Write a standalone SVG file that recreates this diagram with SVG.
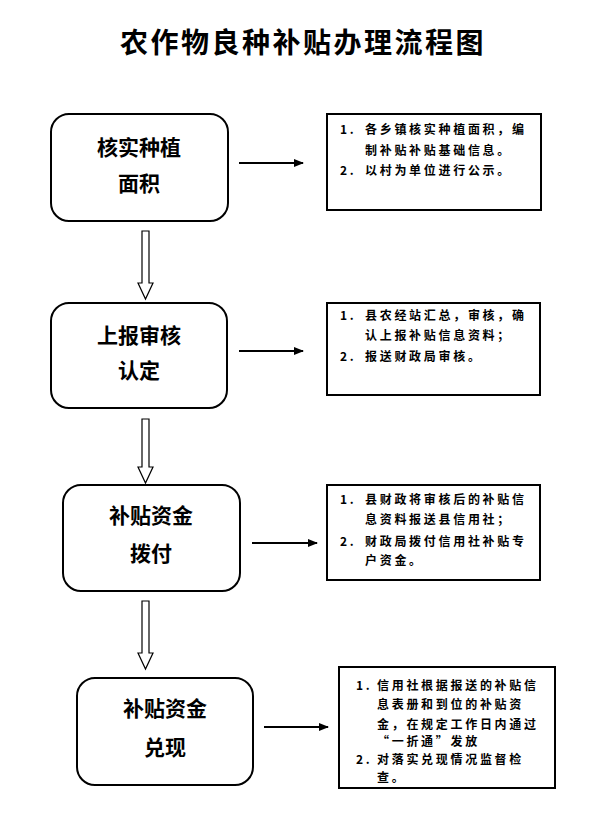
<svg xmlns="http://www.w3.org/2000/svg" width="595" height="822" viewBox="0 0 595 822">
<defs>
<style>
.title{font-family:"Noto Sans CJK SC","Noto Sans CJK JP",sans-serif;font-size:28px;font-weight:bold;fill:#000;letter-spacing:2.5px}
.node rect{fill:#fff;stroke:#000;stroke-width:2}
.ntxt{font-family:"Noto Sans CJK SC","Noto Sans CJK JP",sans-serif;font-size:21px;font-weight:bold;fill:#000;text-anchor:middle}
.box{fill:#fff;stroke:#000;stroke-width:2}
.btxt{font-family:"Noto Sans CJK SC","Noto Sans CJK JP",sans-serif;font-size:12px;font-weight:bold;fill:#000;letter-spacing:2.7px}
.line{stroke:#000;stroke-width:2;fill:none;marker-end:url(#ah)}
.hollow{fill:#fff;stroke:#000;stroke-width:1.2}
</style>
<marker id="ah" markerWidth="10" markerHeight="8" refX="9" refY="4" orient="auto" markerUnits="userSpaceOnUse">
<path d="M0,0 L10,4 L0,8 Z" fill="#000"/>
</marker>
</defs>
<rect width="595" height="822" fill="#fff"/>
<text class="title" x="303" y="53" text-anchor="middle">农作物良种补贴办理流程图</text>

<g id="node1" class="node">
<rect x="51" y="114" width="177" height="107" rx="18"/>
<text class="ntxt" x="139" y="155">核实种植</text>
<text class="ntxt" x="139" y="191">面积</text>
</g>
<g id="info1">
<rect class="box" x="327" y="114" width="214" height="96"/>
<text class="btxt" x="340" y="134">1.</text>
<text class="btxt" x="365" y="134">各乡镇核实种植面积，编</text>
<text class="btxt" x="365" y="155">制补贴补贴基础信息。</text>
<text class="btxt" x="340" y="175">2.</text>
<text class="btxt" x="365" y="175">以村为单位进行公示。</text>
</g>

<g id="node2" class="node">
<rect x="51" y="303" width="176" height="105" rx="18"/>
<text class="ntxt" x="139" y="343">上报审核</text>
<text class="ntxt" x="139" y="378">认定</text>
</g>
<g id="info2">
<rect class="box" x="327" y="303" width="213" height="92"/>
<text class="btxt" x="340" y="320">1.</text>
<text class="btxt" x="365" y="320">县农经站汇总，审核，确</text>
<text class="btxt" x="365" y="340">认上报补贴信息资料；</text>
<text class="btxt" x="340" y="361">2.</text>
<text class="btxt" x="365" y="361">报送财政局审核。</text>
</g>

<g id="node3" class="node">
<rect x="63" y="485" width="177" height="106" rx="18"/>
<text class="ntxt" x="151" y="523">补贴资金</text>
<text class="ntxt" x="151" y="561">拨付</text>
</g>
<g id="info3">
<rect class="box" x="327" y="485" width="213" height="95"/>
<text class="btxt" x="340" y="504">1.</text>
<text class="btxt" x="365" y="504">县财政将审核后的补贴信</text>
<text class="btxt" x="365" y="524">息资料报送县信用社；</text>
<text class="btxt" x="340" y="546">2.</text>
<text class="btxt" x="365" y="546">财政局拨付信用社补贴专</text>
<text class="btxt" x="365" y="565">户资金。</text>
</g>

<g id="node4" class="node">
<rect x="77" y="678" width="176" height="107" rx="18"/>
<text class="ntxt" x="165" y="716">补贴资金</text>
<text class="ntxt" x="165" y="755">兑现</text>
</g>
<g id="info4">
<rect class="box" x="339" y="667" width="216" height="121"/>
<text class="btxt" x="356" y="690">1.</text>
<text class="btxt" x="377" y="690">信用社根据报送的补贴信</text>
<text class="btxt" x="377" y="709">息表册和到位的补贴资</text>
<text class="btxt" x="377" y="729">金，在规定工作日内通过</text>
<text class="btxt" x="377" y="746">“一折通”发放</text>
<text class="btxt" x="356" y="764">2.</text>
<text class="btxt" x="377" y="764">对落实兑现情况监督检</text>
<text class="btxt" x="377" y="782">查。</text>
</g>

<g id="connectors">
<line class="line" x1="239" y1="163" x2="303" y2="163"/>
<line class="line" x1="239" y1="351" x2="303" y2="351"/>
<line class="line" x1="252" y1="543" x2="317" y2="543"/>
<line class="line" x1="264" y1="727" x2="328" y2="727"/>
<polygon class="hollow" points="142,231 149,231 149,283 153,283 145.5,299 138,283 142,283"/>
<polygon class="hollow" points="142,419 149,419 149,467 153,467 145.5,483 138,467 142,467"/>
<polygon class="hollow" points="142,601 149,601 149,653 153,653 145.5,669 138,653 142,653"/>
</g>
</svg>
